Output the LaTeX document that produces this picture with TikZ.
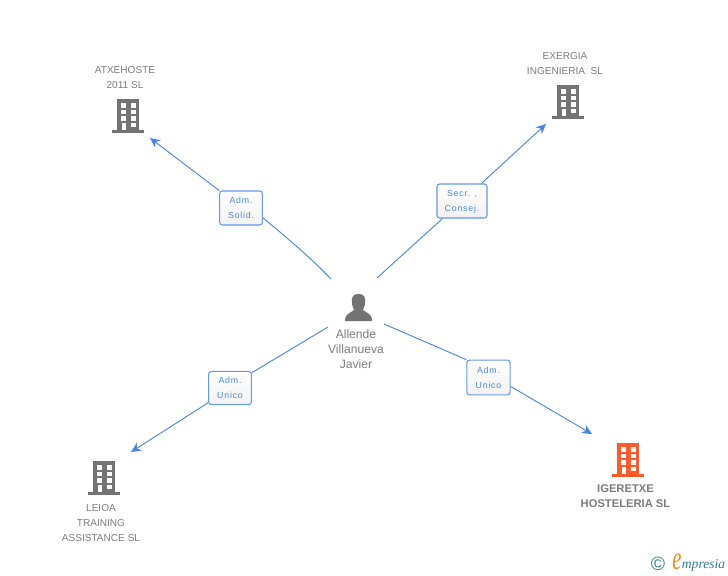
\documentclass[tikz,border=0pt]{standalone}
\usepackage{fontspec}
\setmainfont{Liberation Sans}
\newfontfamily\rolefont[LetterSpace=9]{Liberation Sans}
\newfontfamily\logofont{Liberation Serif}
\usetikzlibrary{arrows.meta}
\definecolor{linkblue}{HTML}{4A86E0}
\definecolor{labelgray}{HTML}{7C7C7C}
\definecolor{icongray}{HTML}{737373}
\definecolor{iconorange}{HTML}{FF5A2B}
\definecolor{logoteal}{HTML}{2F7F93}
\definecolor{logoorange}{HTML}{F08A1D}
\newcommand{\labelsize}{\fontsize{7.55pt}{11.25pt}\selectfont}
\newcommand{\personsize}{\fontsize{9.1pt}{11.25pt}\selectfont}
\newcommand{\companysize}{\fontsize{8.4pt}{11.25pt}\selectfont}
\newcommand{\rolesize}{\fontsize{6.6pt}{11.4pt}\selectfont}
\tikzset{
  x=0.75pt,y=-0.75pt,
  link/.style={draw=linkblue,line width=0.7pt},
  linkarrow/.style={link,-{Stealth[length=7.5pt,width=7pt]}},
  rolebox/.style={draw=linkblue!85,line width=0.8pt,rounded corners=2pt,align=center,text=linkblue,
    top color=white,bottom color=black!5,inner sep=0pt,font=\rolesize\rolefont},
  entity/.style={align=center,text=labelgray,font=\labelsize,inner sep=0pt},
  icon/.style={inner sep=0pt,minimum width=24pt,minimum height=26pt},
  pics/building/.style={code={
    % tower, base, windows and door
    \fill[#1] (-11,-34) rectangle (11,-3);
    \fill[#1] (-16,-3) rectangle (16,0);
    \foreach \wy in {-30,-23.5,-17}{
      \fill[white] (-7.5,\wy) rectangle ++(5,4.5);
      \fill[white] (2.5,\wy) rectangle ++(5,4.5);
    }
    \fill[white] (2.5,-10.5) rectangle ++(5,4.5);
    \fill[white] (-6.5,-10.5) rectangle (-2.5,-3);
  }}
}
\begin{document}
\begin{tikzpicture}
\useasboundingbox (0,0) rectangle (728,575);

% Companies
\node (atxehosteicon) [icon] at (128,116) {};
\pic at (128,133) {building=icongray};
\node (atxehoste) [entity] at (125,78) {ATXEHOSTE\\2011 SL};

\node (exergiaicon) [icon] at (568,102) {};
\pic at (568,119) {building=icongray};
\node (exergia) [entity] at (565,64) {EXERGIA\\INGENIERIA\ \ SL};

\node (leioaicon) [icon] at (104,478) {};
\pic at (104,495) {building=icongray};
\node (leioa) [entity] at (101,523) {LEIOA\\TRAINING\\ASSISTANCE SL};

\node (igeretxeicon) [icon] at (628,460) {};
\pic at (628,477) {building=iconorange};
\node (igeretxe) [entity,font=\companysize\bfseries] at (625.5,496) {IGERETXE\\HOSTELERIA SL};

% Person
\fill[icongray] (345,321) .. controls (345,313) and (351,313) .. (354,310)
  .. controls (354,308) and (352,307) .. (352,303)
  .. controls (351,296) and (354,294) .. (358.5,294)
  .. controls (363,294) and (366,296) .. (365,303)
  .. controls (365,307) and (363,308) .. (363,310)
  .. controls (366,313) and (372,313) .. (372,321) -- cycle;
\node (person) [entity,font=\personsize] at (356,349.5) {Allende\\Villanueva\\Javier};

% Role boxes
\node (solid) [rolebox,minimum width=32pt,minimum height=25.5pt] at (241,208) {Adm.\\Solid.};
\node (consej) [rolebox,minimum width=37.5pt,minimum height=25.5pt] at (462,201) {Secr. ,\\\smash{Consej.}};
\node (unicoleft) [rolebox,minimum width=32pt,minimum height=25pt] at (230,388) {Adm.\\Unico};
\node (unicoright) [rolebox,minimum width=32.5pt,minimum height=26pt] at (488.5,377.5) {Adm.\\Unico};

% Connector ends
\coordinate (pa) at (331,279);
\coordinate (pb) at (377,278);
\coordinate (pc) at (328,327);
\coordinate (pd) at (384,324);
\coordinate (ta) at (150,138);
\coordinate (tb) at (546,124);
\coordinate (tc) at (131,452);
\coordinate (td) at (592,434);

% Connectors
\draw[link] (pa) .. controls (310,257) and (286,237) .. (solid.-24);
\draw[linkarrow] (solid.north west) -- (ta);
\draw[link] (pb) -- (consej.222);
\draw[linkarrow] (consej.42) -- (tb);
\draw[link] (pc) -- (unicoleft.35);
\draw[linkarrow] (unicoleft.214) -- (tc);
\draw[link] (pd) -- (unicoright.north west);
\draw[linkarrow] (unicoright.-22) -- (td);

% Logo
\node (copyright) [inner sep=0pt,text=logoteal,font=\fontsize{14.5pt}{15pt}\selectfont] at (658,564) {©};
\node (empresiae) [inner sep=0pt,anchor=base,text=logoorange,xscale=0.62,font=\logofont\itshape\fontsize{25pt}{25pt}\selectfont] at (677,569) {e};
\node (empresia) [inner sep=0pt,anchor=base east,font=\logofont\itshape\fontsize{10.2pt}{10pt}\selectfont,text=logoteal] at (725.5,568) {mpresia};
\end{tikzpicture}
\end{document}
